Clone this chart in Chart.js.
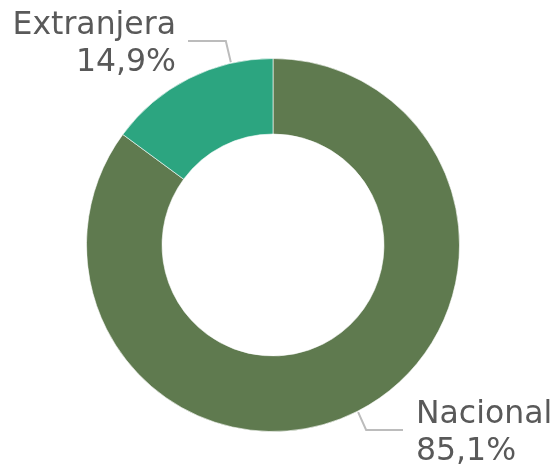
<!DOCTYPE html>
<html>
<head>
<meta charset="utf-8">
<script src="https://cdn.jsdelivr.net/npm/chart.js@4"></script>
<style>
  html, body { margin: 0; padding: 0; background: #ffffff; }
  #wrap { width: 554px; height: 464px; position: relative; }
</style>
</head>
<body>
<div id="wrap"><canvas id="originChart"></canvas></div>
<script>
  const categories = ['Nacional', 'Extranjera'];
  const shares = [85.1, 14.9];
  const sliceColors = ['#5f7a4f', '#2ca580'];

  // where each label sits and where its leader touches the ring
  const labelSpots = [
    { angle: 153, elbowY: 430, textX: 416, baseY: 423, align: 'left', lineEndX: 403 },
    { angle: -13, elbowY: 41, textX: 176, baseY: 34, align: 'right', lineEndX: 188 }
  ];

  const pct = v => v.toFixed(1).replace('.', ',') + '%';

  const calloutLabels = {
    id: 'calloutLabels',
    afterDraw(chart) {
      const ctx = chart.ctx;
      const arcs = chart.getDatasetMeta(0).data;
      ctx.save();
      arcs.forEach((arc, i) => {
        const spot = labelSpots[i];
        const a = spot.angle * Math.PI / 180;
        const r = arc.outerRadius + 1;
        const sx = arc.x + r * Math.sin(a);
        const sy = arc.y - r * Math.cos(a);
        // elbow: short slanted bit, then horizontal run toward the text
        const ex = spot.align === 'left' ? sx + 8 : sx - 5;
        ctx.strokeStyle = '#bcbcbc';
        ctx.lineWidth = 2;
        ctx.beginPath();
        ctx.moveTo(sx, sy);
        ctx.lineTo(ex, spot.elbowY);
        ctx.lineTo(spot.lineEndX, spot.elbowY);
        ctx.stroke();

        ctx.fillStyle = '#595959';
        ctx.font = '31.5px "DejaVu Sans", sans-serif';
        ctx.textAlign = spot.align;
        ctx.textBaseline = 'alphabetic';
        ctx.fillText(categories[i], spot.textX, spot.baseY);
        ctx.fillText(pct(shares[i]), spot.textX, spot.baseY + 37);
      });
      ctx.restore();
    }
  };

  document.addEventListener('DOMContentLoaded', () => {
    const ctx = document.getElementById('originChart').getContext('2d');
    new Chart(ctx, {
      type: 'doughnut',
      data: {
        labels: categories,
        datasets: [{
          data: shares,
          backgroundColor: sliceColors,
          borderColor: 'rgba(255, 255, 255, 0.6)',
          borderWidth: 1
        }]
      },
      options: {
        responsive: true,
        maintainAspectRatio: false,
        animation: false,
        cutout: '59.5%',
        layout: { padding: { top: 57, bottom: 31, left: 86, right: 94 } },
        plugins: {
          legend: { display: false },
          tooltip: { enabled: false }
        }
      },
      plugins: [calloutLabels]
    });
  });
</script>
</body>
</html>
